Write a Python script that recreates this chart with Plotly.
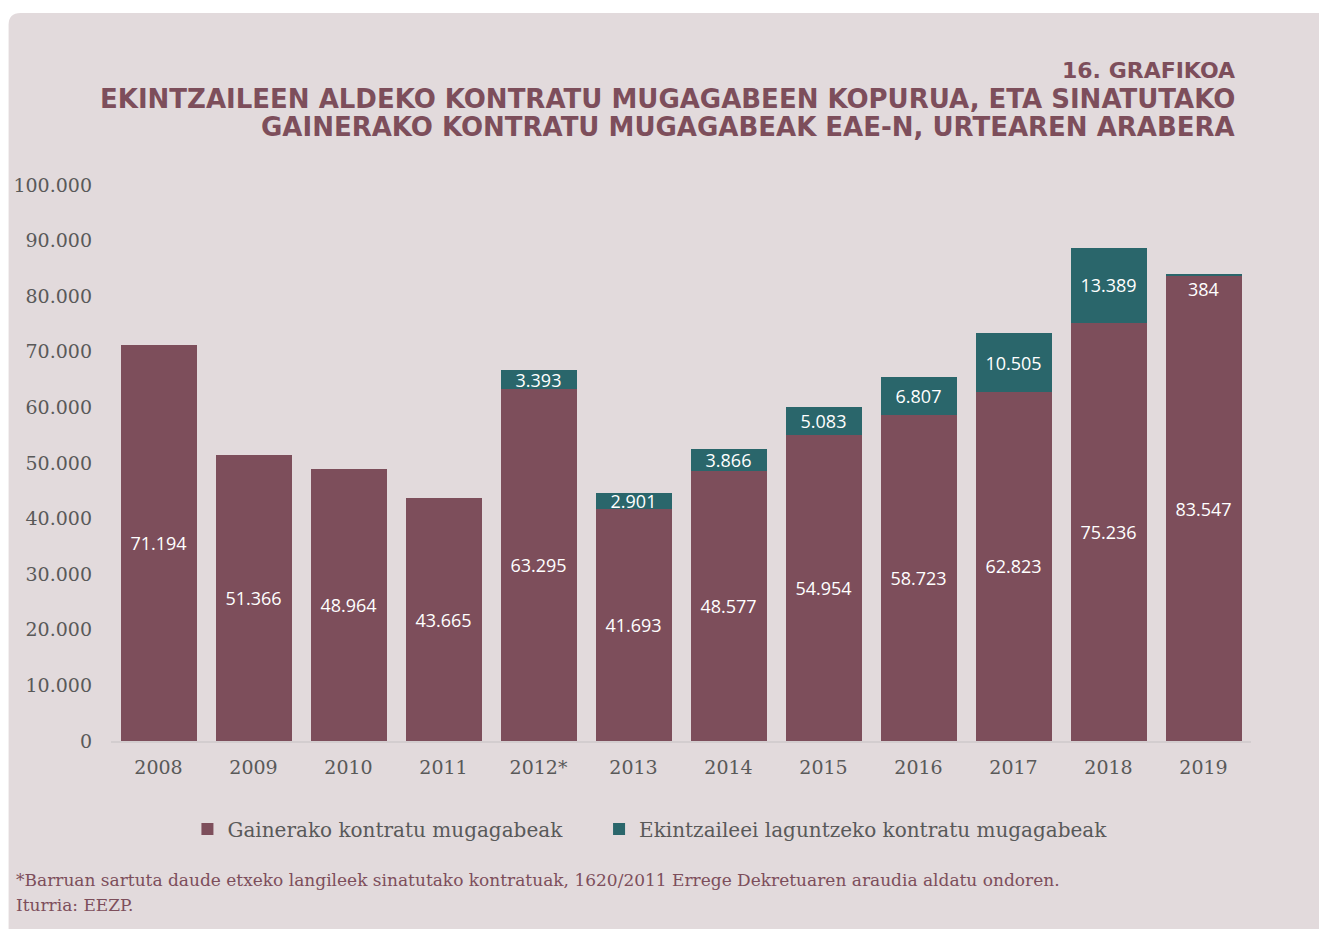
import plotly.graph_objects as go

years = ["2008", "2009", "2010", "2011", "2012*", "2013", "2014", "2015", "2016", "2017", "2018", "2019"]
gainerako = [71194, 51366, 48964, 43665, 63295, 41693, 48577, 54954, 58723, 62823, 75236, 83547]
ekintzaile = [0, 0, 0, 0, 3393, 2901, 3866, 5083, 6807, 10505, 13389, 384]
y_ticks = [0, 10000, 20000, 30000, 40000, 50000, 60000, 70000, 80000, 90000, 100000]

MAROON = "#7D4E5B"
TEAL = "#2A666B"
CARD = "#E2DADC"
GREY = "#595959"

def fmt(v):
    return f"{v:,}".replace(",", ".")

W, H = 1327, 929
OFF = 8  # page body margin
L, R, T, B = 110.5 - OFF, 1251.5 - OFF, 185 - OFF, 741 - OFF

def px(p):
    return (p - OFF - L) / (R - L)

def py(p):
    return (B - (p - OFF)) / (B - T)

fig = go.Figure()
fig.add_trace(go.Bar(
    x=years, y=gainerako, name="Gainerako kontratu mugagabeak" + "\u00a0" * 5,
    marker=dict(color=MAROON, line=dict(width=0)),
    text=[fmt(v) for v in gainerako], textposition="inside",
    insidetextanchor="middle", textangle=0,
    textfont=dict(family="Open Sans, Noto Sans, sans-serif", size=18, color="white"),
    hoverinfo="skip",
))
teal_text = [fmt(v) if v > 1000 else "" for v in ekintzaile]
fig.add_trace(go.Bar(
    x=years, y=ekintzaile, name="Ekintzaileei laguntzeko kontratu mugagabeak",
    marker=dict(color=TEAL, line=dict(width=0)),
    text=teal_text, textposition="inside", insidetextanchor="middle", textangle=0,
    textfont=dict(family="Open Sans, Noto Sans, sans-serif", size=18, color="white"),
    hoverinfo="skip",
))

# small segment label (2019)
for i, (g, e) in enumerate(zip(gainerako, ekintzaile)):
    if 0 < e <= 1000:
        fig.add_annotation(x=i, y=g + e, xref="x", yref="y", text=fmt(e), showarrow=False,
                           yanchor="top", yshift=-1,
                           font=dict(family="Open Sans, Noto Sans, sans-serif", size=18, color="white"))

# card background with rounded top-left corner
x0, y0, x1, y1 = px(8), py(929 + 40), px(1327 + 40), py(13)
rx = 12 / (R - L)
ry = 12 / (B - T)
path = (f"M {x0},{y0} L {x0},{y1 - ry} Q {x0},{y1} {x0 + rx},{y1} "
        f"L {x1},{y1} L {x1},{y0} Z")
fig.add_shape(type="path", path=path, xref="paper", yref="paper",
              fillcolor=CARD, line=dict(width=0), layer="below")

title_font = dict(family="DejaVu Sans, Liberation Sans, sans-serif", size=26, color=MAROON)
fig.add_annotation(x=px(1237), y=py(71), xref="paper", yref="paper", xanchor="right", yanchor="middle",
                   text="<b>16. GRAFIKOA</b>", showarrow=False,
                   font=dict(family="DejaVu Sans, sans-serif", size=22, color=MAROON))
fig.add_annotation(x=px(1237), y=py(99), xref="paper", yref="paper", xanchor="right", yanchor="middle",
                   text="<b>EKINTZAILEEN ALDEKO KONTRATU MUGAGABEEN KOPURUA, ETA SINATUTAKO</b>",
                   showarrow=False, font=title_font)
fig.add_annotation(x=px(1237), y=py(127), xref="paper", yref="paper", xanchor="right", yanchor="middle",
                   text="<b>GAINERAKO KONTRATU MUGAGABEAK EAE-N, URTEAREN ARABERA</b>",
                   showarrow=False, font=title_font)

foot_font = dict(family="DejaVu Serif, Liberation Serif, serif", size=17, color=MAROON)
fig.add_annotation(x=px(13), y=py(880), xref="paper", yref="paper", xanchor="left", yanchor="middle",
                   text="*Barruan sartuta daude etxeko langileek sinatutako kontratuak, 1620/2011 Errege Dekretuaren araudia aldatu ondoren.",
                   showarrow=False, font=foot_font)
fig.add_annotation(x=px(13), y=py(905), xref="paper", yref="paper", xanchor="left", yanchor="middle",
                   text="Iturria: EEZP.", showarrow=False, font=foot_font)

fig.update_layout(
    width=W, height=H,
    margin=dict(l=L, r=W - R, t=T, b=H - B, pad=0, autoexpand=False),
    barmode="stack", bargap=0.2,
    paper_bgcolor="white", plot_bgcolor="rgba(0,0,0,0)",
    uniformtext=dict(minsize=18, mode="show"),
    showlegend=True,
    legend=dict(orientation="h", x=px(187), xanchor="left", y=py(829), yanchor="middle",
                font=dict(family="DejaVu Serif, Liberation Serif, serif", size=20, color=GREY),
                itemwidth=30, traceorder="normal", bgcolor="rgba(0,0,0,0)"),
    xaxis=dict(type="category", range=[-0.5, len(years) - 0.5], showgrid=False, showline=True,
               linecolor="#D3CDCF", linewidth=2, automargin=False,
               ticks="", tickfont=dict(family="DejaVu Serif, Liberation Serif, serif", size=19, color=GREY),
               ticklabelstandoff=8),
    yaxis=dict(range=[0, 100000], tickvals=y_ticks, ticktext=[fmt(v) for v in y_ticks],
               showgrid=False, zeroline=False, showline=False, ticks="", automargin=False,
               tickfont=dict(family="DejaVu Serif, Liberation Serif, serif", size=19, color=GREY),
               ticklabelstandoff=18),
)

fig.write_html("out.html")
